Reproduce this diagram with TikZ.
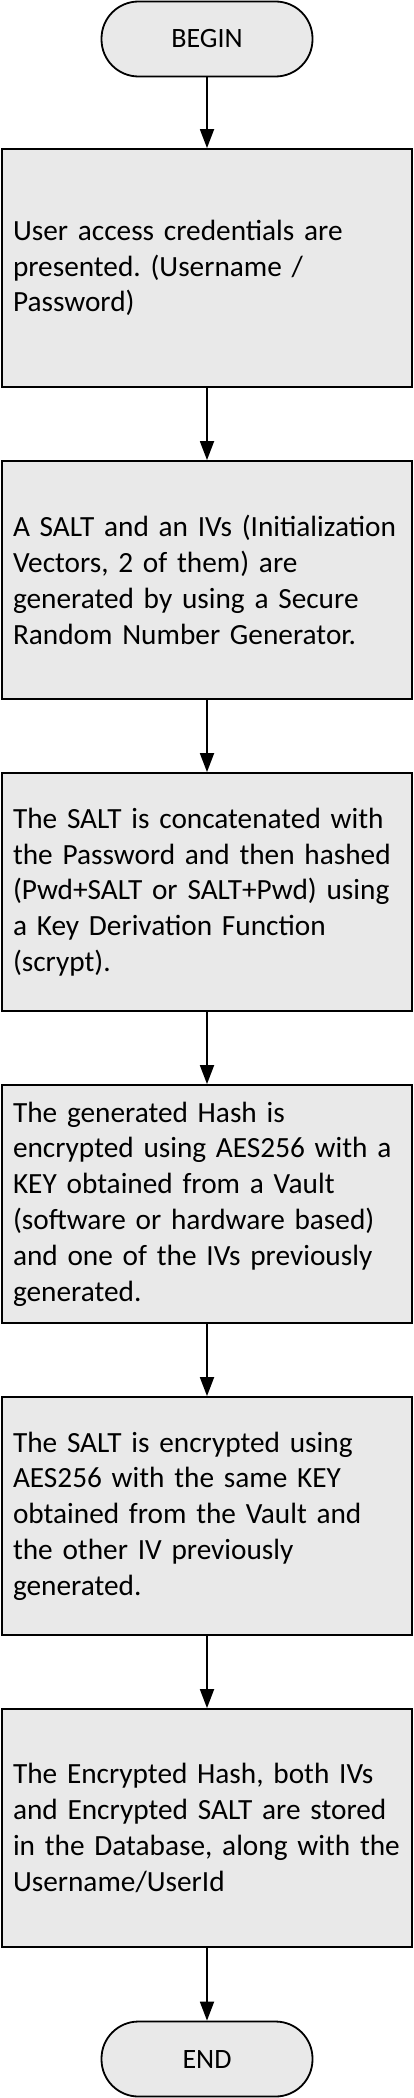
\documentclass[tikz,border=0pt]{standalone}
\usepackage{fontspec}
\setmainfont{Carlito}
\usetikzlibrary{arrows.meta}
\frenchspacing
\tikzset{
  stepbox/.style={draw=black, line width=1.8pt, fill=boxgray, minimum width=410pt, minimum height=238pt,
    text width=388pt, align=left, inner sep=0pt, font=\fontsize{29.3pt}{35.8pt}\selectfont},
  termbox/.style={draw=black, line width=1.8pt, fill=boxgray, rounded corners=37pt, minimum width=211pt,
    minimum height=75pt, inner sep=0pt, font=\fontsize{28pt}{34pt}\selectfont},
  flow/.style={line width=1.8pt, -{Triangle[length=19pt,width=14pt]}}
}
\definecolor{boxgray}{HTML}{E9E9E9}
\begin{document}
\begin{tikzpicture}
\useasboundingbox (0pt,0pt) rectangle (414pt,-2098pt);
\node[termbox] (begin) at (207pt,-39pt) {BEGIN};
\node[stepbox] (s1) at (207pt,-268pt) {User access credentials are\\presented. (Username /\\Password)};
\node[stepbox] (s2) at (207pt,-580pt) {A SALT and an IVs (Initialization\\Vectors, 2 of them) are\\generated by using a Secure\\Random Number Generator.};
\node[stepbox] (s3) at (207pt,-892pt) {The SALT is concatenated with\\the Password and then hashed\\(Pwd+SALT or SALT+Pwd) using\\a Key Derivation Function\\(scrypt).};
\node[stepbox] (s4) at (207pt,-1204pt) {The generated Hash is\\encrypted using AES256 with a\\KEY obtained from a Vault\\(software or hardware based)\\and one of the IVs previously\\generated.};
\node[stepbox] (s5) at (207pt,-1516pt) {The SALT is encrypted using\\AES256 with the same KEY\\obtained from the Vault and\\the other IV previously\\generated.};
\node[stepbox] (s6) at (207pt,-1828pt) {The Encrypted Hash, both IVs\\and Encrypted SALT are stored\\in the Database, along with the\\Username/UserId};
\node[termbox] (end) at (207pt,-2059pt) {END};
\draw[flow] (begin) -- (s1);
\draw[flow] (s1) -- (s2);
\draw[flow] (s2) -- (s3);
\draw[flow] (s3) -- (s4);
\draw[flow] (s4) -- (s5);
\draw[flow] (s5) -- (s6);
\draw[flow] (s6) -- (end);
\end{tikzpicture}
\end{document}
